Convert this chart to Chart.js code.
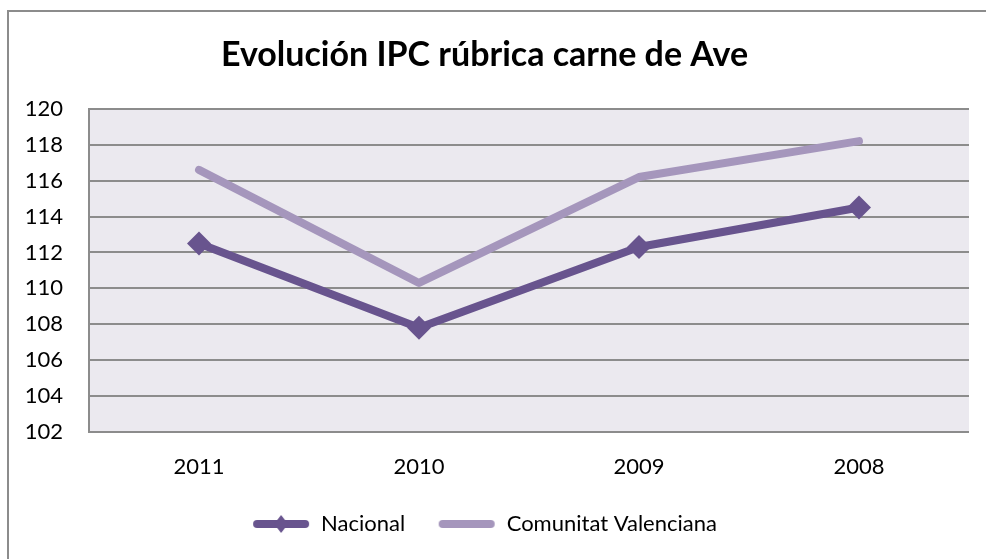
<!DOCTYPE html>
<html>
<head>
<meta charset="utf-8">
<script src="https://cdn.jsdelivr.net/npm/chart.js@4/dist/chart.umd.min.js"></script>
<style>
  html, body { margin: 0; padding: 0; background: #fff; }
  #wrap { position: relative; width: 986px; height: 559px; overflow: hidden; }
  #frame { position: absolute; left: 7px; top: 10px; width: 1000px; height: 600px; border: 2px solid #8c8c8c; box-sizing: border-box; }
  canvas { position: absolute; left: 0; top: 0; }
</style>
</head>
<body>
<div id="wrap">
  <div id="frame"></div>
  <canvas id="myChart" width="986" height="559"></canvas>
</div>
<script>
let years = ['2011', '2010', '2009', '2008'];

let nacional = [112.5, 107.8, 112.3, 114.5];
let valenciana = [116.6, 110.3, 116.2, 118.2];

let seriesNames = ['Nacional', 'Comunitat Valenciana'];
let seriesColors = ['#68548e', '#a596bc'];

// legend samples: a short thick line, with the diamond for Nacional
function legendSample(color, diamond) {
    let c = document.createElement('canvas');
    c.width = 58;
    c.height = 22;
    let g = c.getContext('2d');
    g.strokeStyle = color;
    g.lineWidth = 8;
    g.lineCap = 'round';
    g.beginPath();
    g.moveTo(5, 11);
    g.lineTo(53, 11);
    g.stroke();
    if (diamond) {
        g.fillStyle = color;
        g.beginPath();
        g.moveTo(29, 2);
        g.lineTo(36, 11);
        g.lineTo(29, 20);
        g.lineTo(22, 11);
        g.closePath();
        g.fill();
    }
    return c;
}

let plotBg = {
    id: 'plotBg',
    beforeDraw(chart) {
        let a = chart.chartArea;
        let ctx = chart.ctx;
        ctx.save();
        ctx.fillStyle = '#ebe9ef';
        ctx.fillRect(a.left, a.top, a.right - a.left, a.bottom - a.top);
        ctx.restore();
    }
};

let myChart = document.getElementById('myChart').getContext('2d');

let chart = new Chart(myChart, {
    type: 'line',
    data: {
        labels: years,
        datasets: [{
            label: seriesNames[0],
            data: nacional,
            borderColor: seriesColors[0],
            backgroundColor: seriesColors[0],
            borderWidth: 8,
            borderCapStyle: 'round',
            borderJoinStyle: 'round',
            pointStyle: 'rectRot',
            pointRadius: 12,
            pointBorderWidth: 0,
            tension: 0
        }, {
            label: seriesNames[1],
            data: valenciana,
            borderColor: seriesColors[1],
            backgroundColor: seriesColors[1],
            borderWidth: 8,
            borderCapStyle: 'round',
            borderJoinStyle: 'round',
            pointRadius: 0,
            tension: 0
        }]
    },
    options: {
        responsive: false,
        animation: false,
        layout: {
            padding: { left: 0, right: 17, top: 0, bottom: 14 }
        },
        font: { family: 'Lato' },
        scales: {
            x: {
                offset: true,
                grid: { display: false, drawTicks: false },
                border: { display: false },
                ticks: { color: '#000', font: { family: 'Lato', size: 22 }, padding: 22 },
                afterFit(s) { s.height = 71; }
            },
            y: {
                min: 102,
                max: 120,
                grid: { color: '#8c8c8c', lineWidth: 2, drawTicks: false },
                border: { color: '#8c8c8c', width: 2 },
                ticks: { stepSize: 2, color: '#000', font: { family: 'Lato', size: 22 }, padding: 26 },
                afterFit(s) { s.width = 89; }
            }
        },
        plugins: {
            title: {
                display: true,
                text: 'Evolución IPC rúbrica carne de Ave',
                color: '#000',
                font: { family: 'Lato', size: 34, weight: 'bold' },
                padding: { top: 35, bottom: 33 }
            },
            legend: {
                display: true,
                position: 'bottom',
                labels: {
                    usePointStyle: true,
                    pointStyleWidth: 58,
                    color: '#000',
                    font: { family: 'Lato', size: 22 },
                    padding: 10,
                    generateLabels(ch) {
                        return ch.data.datasets.map((ds, i) => ({
                            // trailing spaces widen the gap between the two entries
                            text: i === 0 ? ds.label + '    ' : ds.label,
                            fillStyle: ds.borderColor,
                            strokeStyle: ds.borderColor,
                            lineWidth: 0,
                            pointStyle: legendSample(ds.borderColor, i === 0),
                            datasetIndex: i,
                            fontColor: '#000'
                        }));
                    }
                }
            }
        }
    },
    plugins: [plotBg]
});
</script>
</body>
</html>
